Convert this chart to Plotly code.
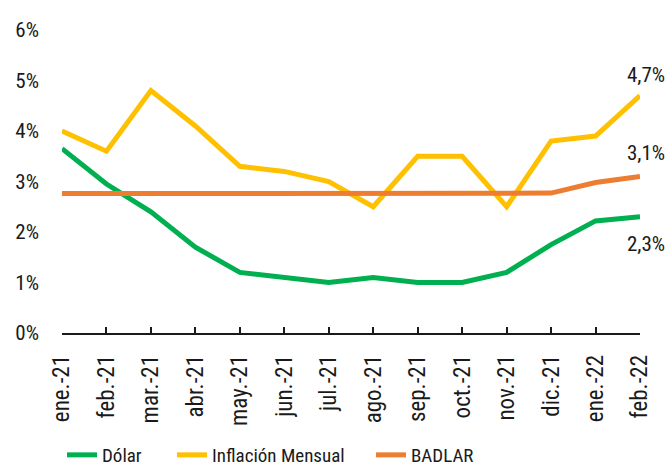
import plotly.graph_objects as go

months = ["ene.-21", "feb.-21", "mar.-21", "abr.-21", "may.-21", "jun.-21", "jul.-21",
          "ago.-21", "sep.-21", "oct.-21", "nov.-21", "dic.-21", "ene.-22", "feb.-22"]
dolar = [3.65, 2.95, 2.4, 1.7, 1.2, 1.1, 1.0, 1.1, 1.0, 1.0, 1.2, 1.75, 2.22, 2.3]
inflacion = [4.0, 3.6, 4.8, 4.1, 3.3, 3.2, 3.0, 2.5, 3.5, 3.5, 2.5, 3.8, 3.9, 4.7]
badlar = [2.76, 2.76, 2.76, 2.75, 2.76, 2.77, 2.76, 2.75, 2.75, 2.76, 2.76, 2.77, 2.98, 3.1]
yticks = [0, 1, 2, 3, 4, 5, 6]
ytick_labels = ["0%", "1%", "2%", "3%", "4%", "5%", "6%"]
end_labels = ["2,3%", "4,7%", "3,1%"]

FONT = "Roboto Condensed, Liberation Sans Narrow, Roboto, sans-serif"
colors = {"Dólar": "#00B050", "Inflación Mensual": "#FFC000", "BADLAR": "#ED7D31"}

fig = go.Figure()
legend_ids = ["legend", "legend2", "legend3"]
legend_left_px = [62, 172, 371]
for (name, vals), lid in zip([("Dólar", dolar), ("Inflación Mensual", inflacion), ("BADLAR", badlar)], legend_ids):
    fig.add_trace(go.Scatter(x=months, y=vals, mode="lines", name=name, legend=lid,
                             line=dict(color=colors[name], width=5)))

shifts = [-27, 21, 23]
for series, lab, sh in zip([dolar, inflacion, badlar], end_labels, shifts):
    fig.add_annotation(x=months[-1], y=series[-1], text=lab, showarrow=False,
                       xanchor="right", yanchor="middle", xshift=27, yshift=sh,
                       font=dict(size=21, color="#1a1a1a", family=FONT))

leg_common = dict(orientation="h", xanchor="left", y=(333 - 455) / 303, yanchor="middle",
                  xref="container", yref="paper", font=dict(size=19),
                  bgcolor="rgba(0,0,0,0)")
legends = {}
for lid, lx in zip(legend_ids, legend_left_px):
    legends[lid] = dict(leg_common, x=lx / 669)

fig.update_layout(
    width=669, height=468,
    margin=dict(l=62, r=29, t=30, b=135, autoexpand=False),
    paper_bgcolor="white", plot_bgcolor="white",
    font=dict(family=FONT, size=21, color="#1a1a1a"),
    showlegend=True,
    xaxis=dict(type="category", range=[0, len(months) - 1], showgrid=False,
               showline=True, linecolor="#1a1a1a", linewidth=1.5,
               ticks="inside", ticklen=6, tickcolor="#1a1a1a", tickwidth=1.5,
               tickangle=-90, tickfont=dict(size=23), zeroline=False,
               ticklabelstandoff=11),
    yaxis=dict(range=[0, 6], tickmode="array", tickvals=yticks, ticktext=ytick_labels,
               showgrid=False, showline=False, zeroline=False, ticklabelstandoff=22,
               tickfont=dict(size=21)),
    **legends,
)
fig.write_html("out.html", config={"displayModeBar": False},
               post_script="document.body.style.margin='0';")
